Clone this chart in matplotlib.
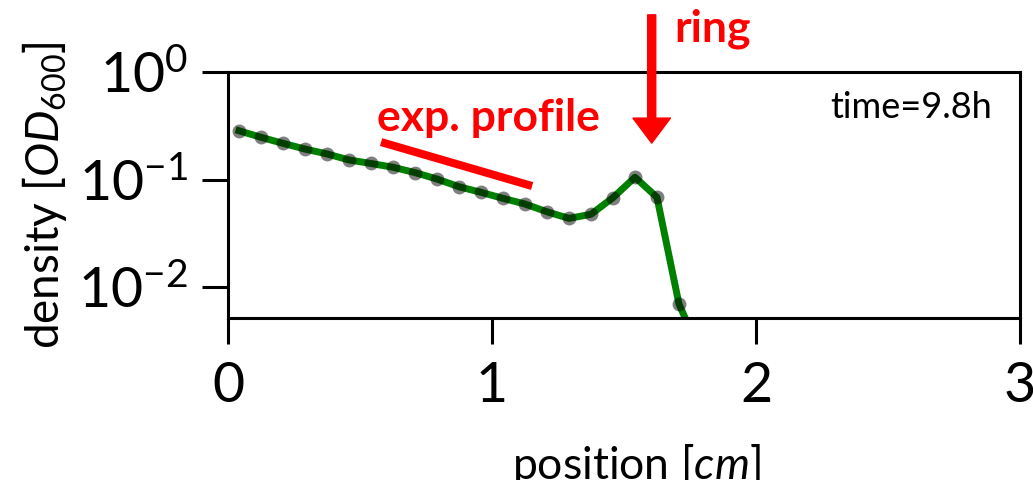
import numpy as np
import matplotlib
matplotlib.use("Agg")
import matplotlib.pyplot as plt

# font setup (Calibri-like look)
plt.rcParams['font.family'] = ['Lato', 'DejaVu Sans']
plt.rcParams['mathtext.fontset'] = 'custom'
plt.rcParams['mathtext.rm'] = 'Lato'
plt.rcParams['mathtext.it'] = 'Lato:italic'
plt.rcParams['mathtext.bf'] = 'Lato:bold'

# Data: density profile at t = 9.8 h, bins of 1/12 cm
bin_width = 1.0 / 12
density = [0.284, 0.247, 0.217, 0.192, 0.173, 0.152, 0.141, 0.130, 0.116,
           0.101, 0.0857, 0.076, 0.0668, 0.0592, 0.0501, 0.0435, 0.0475,
           0.0678, 0.105, 0.0683, 0.00695, 0.0024]
position = (np.arange(len(density)) + 0.5) * bin_width

x_ticks = [0, 1, 2, 3]
y_ticks = [1e-2, 1e-1, 1e0]
time_label = "time=9.8h"

fig = plt.figure(figsize=(10.33, 4.8), dpi=100)
ax = fig.add_axes([0.2207, 0.3375, 0.7667, 0.5125])

ax.plot(position, density, color='green', lw=5, zorder=2)
ax.plot(position, density, 'o', color='black', alpha=0.5, ms=10, mew=0, zorder=3)

ax.set_yscale('log')
ax.set_xlim(0, 3)
ax.set_ylim(10 ** -2.288, 1)
ax.set_xticks(x_ticks)
ax.set_yticks(y_ticks)
ax.minorticks_off()
ax.tick_params(labelsize=40, length=19, width=2.2, pad=10)
ax.tick_params(axis='x', pad=12)
for sp in ax.spines.values():
    sp.set_linewidth(2.2)

ax.set_xlabel(r'position [$cm$]', fontsize=32)
ax.xaxis.set_label_coords(0.516, -0.655)
ax.xaxis.label.set_va('baseline')
ax.set_ylabel(r'density [$OD_{600}$]', fontsize=33, labelpad=6)

ax.text(0.9646, 0.813, time_label, transform=ax.transAxes, ha='right',
        va='baseline', fontsize=26)

# annotations
ax.plot([0.58, 1.152], [0.223, 0.087], color='red', lw=5.8,
        solid_capstyle='butt', clip_on=False)
ax.text(0.564, 0.284, 'exp. profile', color='red', fontsize=32,
        fontweight='bold', va='baseline', ha='left')
ax.annotate('', xy=(1.605, 0.218), xytext=(1.605, 3.4),
            arrowprops=dict(color='red', width=5.8, headwidth=27,
                            headlength=18, shrink=0),
            annotation_clip=False)
ax.text(1.69, 1.94, 'ring', color='red', fontsize=32, fontweight='bold',
        va='baseline', ha='left', clip_on=False)

fig.savefig('out.png', dpi=100)
